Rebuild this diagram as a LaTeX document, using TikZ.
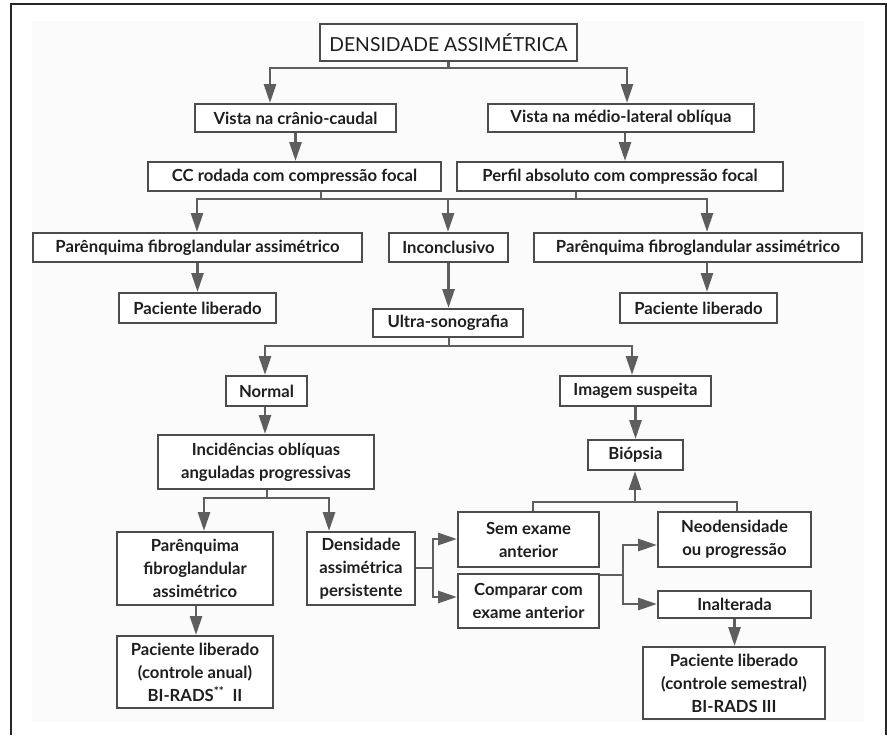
\documentclass[tikz,border=0pt]{standalone}
\usepackage{fontspec}
\setmainfont{Lato}
\usetikzlibrary{arrows.meta}
\definecolor{boxc}{HTML}{4C4C4C}
\definecolor{linec}{HTML}{5E5E5E}
\definecolor{txt}{HTML}{1E1E1E}
\definecolor{panel}{HTML}{FBFBFB}
\newcommand\bx[7][]{\node[bx,#1, minimum width={(#5-#3)*0.75pt}, minimum height={(#6-#4)*0.75pt}] (#2) at ({(#3+#5)/2},{(#4+#6)/2}) {#7};}
\tikzset{
  bx/.style={draw=boxc, line width=1.7pt, fill=white, inner xsep=2pt, inner ysep=0pt,
    align=center, text=txt, font=\bfseries\fontsize{12.5}{17.3}\selectfont},
  ln/.style={draw=linec, line width=1.8pt},
  arr/.style={ln, -{Triangle[length=14pt,width=9pt]}}
}
\begin{document}
\begin{tikzpicture}[x=0.75pt,y=-0.75pt]
\useasboundingbox (0,0) rectangle (887,735);
\fill[white] (0,0) rectangle (887,735);
\fill[panel] (32,21) rectangle (864,722);
\draw[black!85, line width=1.5pt] (11,735) -- (11,4) -- (886,4) -- (886,735);

% boxes
\bx[font=\fontsize{14.5}{17}\selectfont]{title}{320}{24}{577}{61}{DENSIDADE ASSIMÉTRICA}
\bx{vcc}{195}{104}{396}{132}{Vista na crânio-caudal}
\bx{vml}{488}{104}{754}{132}{Vista na médio-lateral oblíqua}
\bx{cc}{148}{162}{441}{191}{CC rodada com compressão focal}
\bx{pf}{457}{162}{783}{191}{Perfil absoluto com compressão focal}
\bx{pL}{33}{233}{362}{262}{Parênquima fibroglandular assimétrico}
\bx{inc}{389}{233}{508}{262}{Inconclusivo}
\bx{pR}{534}{233}{862}{262}{Parênquima fibroglandular assimétrico}
\bx{plL}{119}{293}{276}{323}{Paciente liberado}
\bx{plR}{620}{293}{777}{323}{Paciente liberado}
\bx{us}{373}{309}{523}{337}{Ultra-sonografia}
\bx{nm}{226}{376}{307}{406}{Normal}
\bx{im}{560}{376}{711}{406}{Imagem suspeita}
\bx{inc2}{158}{435}{374}{489}{Incidências oblíquas\\anguladas progressivas}
\bx{bi}{588}{440}{683}{470}{Biópsia}
\bx{pq}{117}{532}{273}{605}{Parênquima\\fibroglandular\\assimétrico}
\bx{dap}{307}{532}{415}{605}{Densidade\\assimétrica\\persistente}
\bx{sem}{458}{512}{599}{567}{Sem exame\\anterior}
\bx{cmp}{458}{574}{599}{628}{Comparar com\\exame anterior}
\bx{neo}{658}{512}{811}{567}{Neodensidade\\ou progressão}
\bx{ina}{658}{591}{811}{618}{Inalterada}
\bx{pa}{117}{636}{273}{708}{Paciente liberado\\(controle anual)\\BI-RADS\textsuperscript{**}\ \ II}
\bx{ps}{643}{647}{825}{719}{Paciente liberado\\(controle semestral)\\BI-RADS III}

% junction coordinates
\coordinate (a0) at (448.5,68);
\coordinate (a1) at (270,68);
\coordinate (a2) at (627,68);
\coordinate (b1) at (625,0);
\coordinate (c1) at (321,199);
\coordinate (c2) at (576,199);
\coordinate (cl) at (197,199);
\coordinate (cm) at (448,199);
\coordinate (cr) at (707,199);
\coordinate (e0) at (449,346);
\coordinate (e1) at (265,346);
\coordinate (e2) at (632,346);
\coordinate (f0) at (267,498);
\coordinate (f1) at (204,498);
\coordinate (f2) at (329,498);
\coordinate (g1) at (196,0);
\coordinate (h0) at (433,568);
\coordinate (h1) at (433,539);
\coordinate (h2) at (433,597);
\coordinate (k0) at (623,575);
\coordinate (k1) at (623,545);
\coordinate (k2) at (623,604);
\coordinate (m0) at (635,502);
\coordinate (m1) at (533,502);
\coordinate (m2) at (737,502);

% connectors
\draw[ln] (title.south) -- (a0);
\draw[arr] (a0) -- (a1) -- (a1 |- vcc.north);
\draw[arr] (a0) -- (a2) -- (a2 |- vml.north);
\draw[arr] (vcc.south) -- (vcc.south |- cc.north);
\draw[arr] (b1 |- vml.south) -- (b1 |- pf.north);

\draw[ln] (c1 |- cc.south) -- (c1);
\draw[ln] (c2 |- pf.south) -- (c2);
\draw[arr] (c1) -- (cl) -- (cl |- pL.north);
\draw[arr] (c1) -- (cr) -- (cr |- pR.north);
\draw[arr] (cm) -- (cm |- inc.north);

\draw[arr] (pL.south) -- (pL.south |- plL.north);
\draw[arr] (cr |- pR.south) -- (cr |- plR.north);
\draw[arr] (inc.south) -- (inc.south |- us.north);

\draw[ln] (e0 |- us.south) -- (e0);
\draw[arr] (e0) -- (e1) -- (e1 |- nm.north);
\draw[arr] (e0) -- (e2) -- (e2 |- im.north);
\draw[arr] (e1 |- nm.south) -- (e1 |- inc2.north);
\draw[arr] (im.south) -- (im.south |- bi.north);

\draw[ln] (f0 |- inc2.south) -- (f0);
\draw[arr] (f0) -- (f1) -- (f1 |- pq.north);
\draw[arr] (f0) -- (f2) -- (f2 |- dap.north);
\draw[arr] (g1 |- pq.south) -- (g1 |- pa.north);

\draw[ln] (dap.east |- h0) -- (h0);
\draw[arr] (h0) -- (h1) -- (h1 -| sem.west);
\draw[arr] (h0) -- (h2) -- (h2 -| cmp.west);

\draw[ln] (cmp.east |- k0) -- (k0);
\draw[arr] (k0) -- (k1) -- (k1 -| neo.west);
\draw[arr] (k0) -- (k2) -- (k2 -| ina.west);

\draw[ln] (m1 |- sem.north) -- (m1) -- (m2) -- (m2 |- neo.north);
\draw[arr] (m0) -- (m0 |- bi.south);

\draw[arr] (ina.south) -- (ina.south |- ps.north);
\end{tikzpicture}
\end{document}
